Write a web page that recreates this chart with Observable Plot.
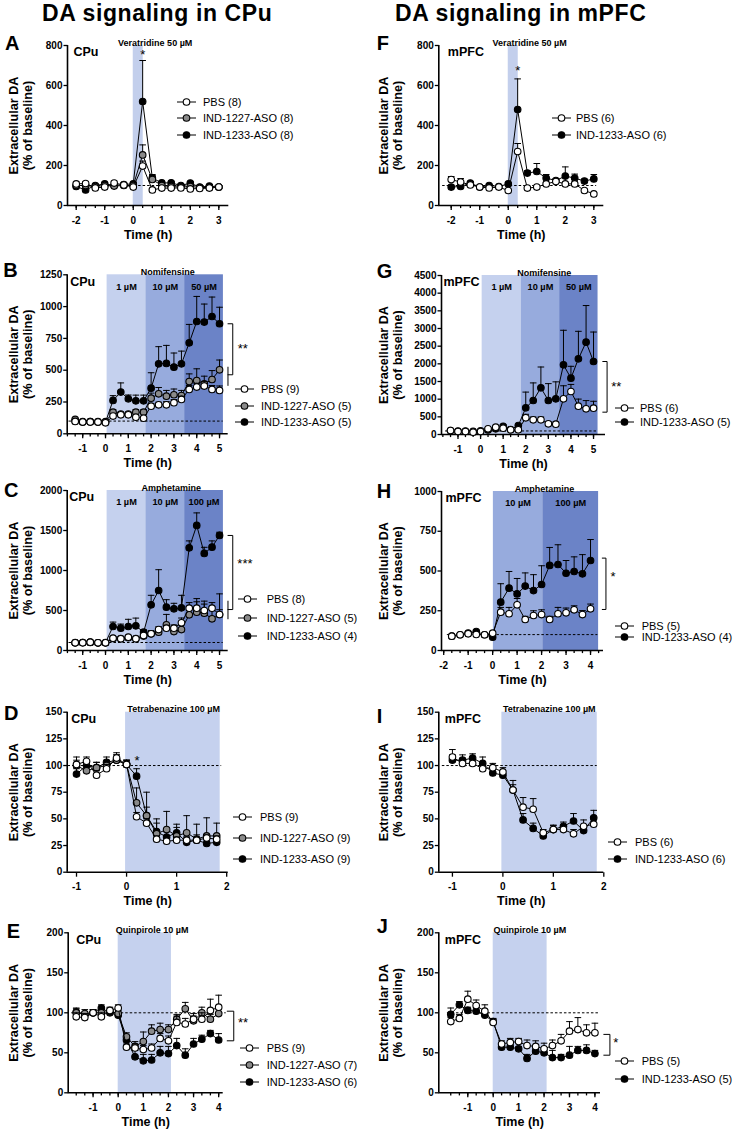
<!DOCTYPE html>
<html><head><meta charset="utf-8">
<script src="https://cdn.jsdelivr.net/npm/d3@7"></script>
<script src="https://cdn.jsdelivr.net/npm/@observablehq/plot@0.6"></script>
<style>
body{margin:0;background:#fff;}
#root{position:relative;width:737px;height:1136px;overflow:hidden;font-family:"Liberation Sans",Arial,sans-serif;color:#000;}
.abs{position:absolute;white-space:nowrap;line-height:1;}
.title{font-weight:bold;font-size:23px;letter-spacing:0.6px;}
.letter{font-weight:bold;font-size:20px;}
.leg{position:absolute;white-space:nowrap;font-size:11px;line-height:12px;height:12px;}
.leg svg{position:absolute;left:0;top:1px;}
.leg span{position:absolute;top:0;}
</style></head><body><div id="root"></div>
<script>
// ---------- data ----------
const tA = [-2,-1.67,-1.33,-1,-0.67,-0.33,0,0.33,0.67,1,1.33,1.67,2,2.33,2.67,3];
const A_PBS = [108,110,88,92,112,103,92,197,78,87,87,88,83,85,87,92];
const A_PBS_err = [10,10,8,8,10,8,8,25,6,6,6,6,6,6,6,6];
const A_1227 = [100,100,95,100,97,100,100,253,130,100,95,92,95,90,90,92];
const A_1227_err = [8,8,8,8,8,8,8,50,20,8,8,8,8,8,8,8];
const A_1233 = [95,78,100,108,100,105,108,520,137,113,113,100,112,92,97,92];
const A_1233_err = [8,8,8,8,8,8,8,205,18,8,8,8,8,8,8,8];

const tF = [-2,-1.67,-1.33,-1,-0.67,-0.33,0,0.33,0.67,1,1.33,1.67,2,2.33,2.67,3];
const F_PBS = [130,117,103,92,88,92,75,270,87,92,108,120,108,108,75,58];
const F_PBS_err = [15,18,8,6,6,6,6,40,6,6,8,10,8,10,8,6];
const F_1233 = [92,95,112,92,100,95,108,480,162,170,137,125,147,137,122,133];
const F_1233_err = [10,8,8,6,6,6,8,153,12,40,18,10,46,20,10,22];

const tB = [-1.33,-1,-0.67,-0.33,0,0.33,0.67,1,1.33,1.67,2,2.33,2.67,3,3.33,3.67,4,4.33,4.67,5];
const B_PBS = [97,92,92,92,86,139,149,149,131,123,217,228,228,244,270,349,367,375,349,341];
const B_PBS_err = [8,6,6,6,6,15,12,12,15,12,20,20,25,25,25,30,30,35,30,35];
const B_1227 = [113,95,95,95,95,170,155,155,170,170,280,314,296,307,301,411,419,393,427,503];
const B_1227_err = [8,6,6,6,6,20,15,15,20,20,40,50,45,45,40,60,92,60,70,77];
const B_1233 = [100,92,95,92,92,262,328,275,259,259,359,550,553,524,550,715,883,878,922,865];
const B_1233_err = [8,6,6,6,6,38,72,30,45,45,121,135,142,111,100,145,197,142,153,130];

const tC = [-1.33,-1,-0.67,-0.33,0,0.33,0.67,1,1.33,1.67,2,2.33,2.67,3,3.33,3.67,4,4.33,4.67,5];
const C_PBS = [96,96,104,96,96,154,146,167,146,188,208,262,279,279,346,529,529,500,529,450];
const C_PBS_err = [8,6,6,6,6,15,15,20,15,25,30,35,35,40,60,70,80,80,70,60];
const C_1227 = [96,100,100,96,96,150,150,160,150,180,208,229,321,237,262,446,479,467,396,450];
const C_1227_err = [8,6,6,6,6,20,20,20,20,20,40,50,130,60,60,100,170,150,150,258];
const C_1233 = [100,100,104,96,100,300,279,300,308,229,571,750,542,521,533,1283,1563,1213,1292,1438];
const C_1233_err = [8,6,6,6,6,55,51,90,97,30,119,260,93,69,157,87,157,77,78,40];

const tG = [-1.33,-1,-0.67,-0.33,0,0.33,0.67,1,1.33,1.67,2,2.33,2.67,3,3.33,3.67,4,4.33,4.67,5];
const G_PBS = [113,85,85,66,85,160,208,180,132,132,472,415,415,302,292,1009,1217,802,726,745];
const G_PBS_err = [20,15,15,15,15,30,40,30,25,25,100,80,80,60,60,370,200,200,234,195];
const G_1233 = [110,95,95,90,100,130,160,230,140,255,755,962,1321,962,1009,1972,1594,2142,2613,2066];
const G_1233_err = [20,15,15,15,15,30,40,50,30,40,445,498,589,478,481,978,336,778,1037,834];

const tH = [-1.67,-1.33,-1,-0.67,-0.33,0,0.33,0.67,1,1.33,1.67,2,2.33,2.67,3,3.33,3.67,4];
const H_PBS = [90,99,105,101,99,109,241,231,287,195,220,226,195,231,237,256,226,262];
const H_PBS_err = [8,8,8,8,8,10,30,40,40,20,30,30,20,40,30,25,25,30];
const H_1233 = [90,99,109,119,99,84,304,392,356,405,377,415,535,541,486,497,482,566];
const H_1233_err = [8,8,8,10,8,8,116,105,97,83,100,118,113,124,80,92,121,132];

const tD = [-1,-0.8,-0.6,-0.4,-0.2,0,0.2,0.4,0.6,0.8,1,1.2,1.4,1.6,1.8];
const D_PBS = [101,104,91,97,107,101,52,46,31,29,30,30,30,32,31];
const D_PBS_err = [7,4,4,4,5,4,4,4,3,3,3,3,3,3,3];
const D_1227 = [100,95,98,100,105,101,65,53,36,40,34,37,31,34,34];
const D_1227_err = [5,5,5,5,5,4,14,22,10,17,8,16,14,17,12];
const D_1233 = [92,100,98,103,105,101,90,53,38,33,37,28,30,27,28];
const D_1233_err = [5,5,5,5,5,4,7,8,12,5,8,5,5,5,5];

const tI = [-1,-0.8,-0.6,-0.4,-0.2,0,0.2,0.4,0.6,0.8,1,1.2,1.4,1.6,1.8];
const I_PBS = [108,102,102,97,98,94,77,61,59,37,40,40,36,43,45];
const I_PBS_err = [7,5,4,4,4,4,9,9,10,3,4,4,4,6,4];
const I_1233 = [105,105,107,102,93,91,77,49,41,34,40,43,48,39,51];
const I_1233_err = [5,5,4,6,4,4,5,6,5,3,4,4,7,4,7];

const tE = [-1.67,-1.33,-1,-0.67,-0.33,0,0.33,0.67,1,1.33,1.67,2,2.33,2.67,3,3.33,3.67,4];
const E_PBS = [95,94,100,95,103,106,57,56,54,56,68,65,88,86,92,92,103,107];
const E_PBS_err = [5,5,4,5,4,4,4,5,5,5,6,6,8,7,7,8,14,15];
const E_1227 = [100,99,100,100,102,99,70,58,64,77,79,79,92,105,90,100,92,99];
const E_1227_err = [5,5,4,4,4,4,5,6,12,8,8,6,6,8,6,7,6,6];
const E_1233 = [101,97,100,106,100,97,66,45,40,41,50,49,59,47,61,67,74,66];
const E_1233_err = [5,4,4,4,4,4,5,8,8,7,8,9,9,8,7,5,4,8];

const tJ = [-1.67,-1.33,-1,-0.67,-0.33,0,0.33,0.67,1,1.33,1.67,2,2.33,2.67,3,3.33,3.67,4];
const J_PBS = [89,93,117,109,102,88,61,63,64,59,58,55,59,65,77,79,75,75];
const J_PBS_err = [5,5,10,7,8,4,4,5,4,7,7,7,7,8,12,15,10,12];
const J_1233 = [98,110,103,102,97,89,57,57,55,43,52,50,44,44,47,53,53,49];
const J_1233_err = [8,4,4,4,4,4,3,3,3,5,4,4,9,4,11,5,7,4];

// tick labels
const yTicksA = [0,200,400,600,800];
const yTicksB = [0,250,500,750,1000,1250];
const yTicksC = [0,500,1000,1500,2000];
const yTicksG = [0,500,1000,1500,2000,2500,3000,3500,4000,4500];
const yTicksH = [0,250,500,750,1000];
const yTicksD = [0,25,50,75,100,125,150];
const yTicksE = [0,50,100,150,200];
const xTicksA = [-2,-1,0,1,2,3];
const xTicksB = [-1,0,1,2,3,4,5];
const xTicksH = [-2,-1,0,1,2,3,4];
const xTicksD = [-1,0,1,2];
const xTicksE = [-1,0,1,2,3,4];
const minorA = [-2,-1.67,-1.33,-1,-0.67,-0.33,0,0.33,0.67,1,1.33,1.67,2,2.33,2.67,3];
const minorB = [-1.67,-1.33,-1,-0.67,-0.33,0,0.33,0.67,1,1.33,1.67,2,2.33,2.67,3,3.33,3.67,4,4.33,4.67,5];
const minorH = [-2,-1.67,-1.33,-1,-0.67,-0.33,0,0.33,0.67,1,1.33,1.67,2,2.33,2.67,3,3.33,3.67,4,4.33];
const minorE = [-1.67,-1.33,-1,-0.67,-0.33,0,0.33,0.67,1,1.33,1.67,2,2.33,2.67,3,3.33,3.67,4];

// treatment windows
const bandVer = [{x1:0, x2:0.35, fill:"#c3cfec", label:""}];
const bandVerF = [{x1:0, x2:0.35, fill:"#c3cfec", label:""}];
const bandNomB = [{x1:0.07,x2:1.77,fill:"#c5d1ee",label:"1 µM"},{x1:1.77,x2:3.47,fill:"#97abdd",label:"10 µM"},{x1:3.47,x2:5.17,fill:"#6b83c7",label:"50 µM"}];
const bandNomG = [{x1:0.07,x2:1.8,fill:"#c5d1ee",label:"1 µM"},{x1:1.8,x2:3.5,fill:"#97abdd",label:"10 µM"},{x1:3.5,x2:5.2,fill:"#6b83c7",label:"50 µM"}];
const bandAmphC = [{x1:0.07,x2:1.77,fill:"#c5d1ee",label:"1 µM"},{x1:1.77,x2:3.47,fill:"#97abdd",label:"10 µM"},{x1:3.47,x2:5.17,fill:"#6b83c7",label:"100 µM"}];
const bandAmphH = [{x1:0.03,x2:2.05,fill:"#97abdd",label:"10 µM"},{x1:2.05,x2:4.33,fill:"#6b83c7",label:"100 µM"}];
const bandTBZ = [{x1:-0.02,x2:1.87,fill:"#c5d1ee",label:""}];
const bandQuin = [{x1:0,x2:2.12,fill:"#c5d1ee",label:""}];

const FILL = {PBS:"#ffffff", "IND-1227-ASO":"#8a8a8a", "IND-1233-ASO":"#000000"};

// ---------- helpers ----------
const FONT = '"Liberation Sans",Arial,sans-serif';
const sym = (f) => ({draw(ctx){ f(ctx); }});
const xMajor = sym(c=>{c.moveTo(0,0);c.lineTo(0,4.5);});
const xMinor = sym(c=>{c.moveTo(0,0);c.lineTo(0,2.6);});
const yTick = sym(c=>{c.moveTo(0,0);c.lineTo(-4,0);});
const cap = sym(c=>{c.moveTo(-3.3,0);c.lineTo(3.3,0);});

function ser(name, t, v, e){ return {name, t, v, e}; }

const panels = [
 {letter:"A", col:0, top:28, h:220, frame:{l:67,r:228.3,t:45,b:205}, xd:[-2.305,3.35], yd:[0,800], yt:yTicksA, xt:xTicksA, minor:minorA,
  region:"CPu", regionDx:6, bands:bandVer, drug:"Veratridine 50 µM", drugX:0.77, base:[-2.02,2.95],
  series:[ser("IND-1233-ASO",tA,A_1233,A_1233_err), ser("IND-1227-ASO",tA,A_1227,A_1227_err), ser("PBS",tA,A_PBS,A_PBS_err)],
  stars:[{x:0.33,y:755,t:"*",a:"middle"}], brackets:[],
  legend:{labels:["PBS (8)","IND-1227-ASO (8)","IND-1233-ASO (8)"], keys:["PBS","IND-1227-ASO","IND-1233-ASO"], symL:177, rows:[101.7,118.3,135], textX:203}},
 {letter:"F", col:1, top:28, h:220, frame:{l:438.3,r:603.3,t:45,b:205}, xd:[-2.435,3.35], yd:[0,800], yt:yTicksA, xt:xTicksA, minor:minorA,
  region:"mPFC", regionDx:9, bands:bandVerF, drug:"Veratridine 50 µM", drugX:0.75, base:[-2.3,3.1],
  series:[ser("IND-1233-ASO",tF,F_1233,F_1233_err), ser("PBS",tF,F_PBS,F_PBS_err)],
  stars:[{x:0.33,y:672,t:"*",a:"middle"}], brackets:[],
  legend:{labels:["PBS (6)","IND-1233-ASO (6)"], keys:["PBS","IND-1233-ASO"], symL:551.7, rows:[118.3,135], textX:576}},
 {letter:"B", col:0, top:255, h:220, frame:{l:66.7,r:227.7,t:274.3,b:433.3}, xd:[-1.68,5.38], yd:[0,1250], yt:yTicksB, xt:xTicksB, minor:minorB,
  region:"CPu", regionDx:3, bands:bandNomB, drug:"Nomifensine", drugX:2.73, base:[-1.6,5.16],
  series:[ser("IND-1233-ASO",tB,B_1233,B_1233_err), ser("IND-1227-ASO",tB,B_1227,B_1227_err), ser("PBS",tB,B_PBS,B_PBS_err)],
  stars:[{x:5.8,y:668,t:"**",a:"start"}],
  brackets:[[[5.37,865],[5.58,865],[5.58,464],[5.37,464]], [[5.37,524],[5.37,380]]],
  legend:{labels:["PBS (9)","IND-1227-ASO (5)","IND-1233-ASO (5)"], keys:["PBS","IND-1227-ASO","IND-1233-ASO"], symL:235, rows:[389,405.7,422.3], textX:261}},
 {letter:"G", col:1, top:255, h:220, frame:{l:441,r:605,t:275,b:434}, xd:[-1.73,5.53], yd:[0,4500], yt:yTicksG, xt:xTicksB, minor:minorB,
  region:"mPFC", regionDx:2, bands:bandNomG, drug:"Nomifensine", drugX:2.82, base:[-1.55,5.2],
  series:[ser("IND-1233-ASO",tG,G_1233,G_1233_err), ser("PBS",tG,G_PBS,G_PBS_err)],
  stars:[{x:5.78,y:1340,t:"**",a:"start"}],
  brackets:[[[5.41,2066],[5.6,2066],[5.6,632],[5.41,632]]],
  legend:{labels:["PBS (6)","IND-1233-ASO (5)"], keys:["PBS","IND-1233-ASO"], symL:615, rows:[407.7,422.3], textX:640}},
 {letter:"C", col:0, top:470, h:220, frame:{l:66.7,r:227.7,t:490,b:650}, xd:[-1.68,5.38], yd:[0,2000], yt:yTicksC, xt:xTicksB, minor:minorB,
  region:"CPu", regionDx:2, bands:bandAmphC, drug:"Amphetamine", drugX:2.88, base:[-1.6,5.16],
  series:[ser("IND-1233-ASO",tC,C_1233,C_1233_err), ser("IND-1227-ASO",tC,C_1227,C_1227_err), ser("PBS",tC,C_PBS,C_PBS_err)],
  stars:[{x:5.78,y:1083,t:"***",a:"start"}],
  brackets:[[[5.37,1438],[5.58,1438],[5.58,512],[5.37,512]], [[5.37,617],[5.37,396]]],
  legend:{labels:["PBS (8)","IND-1227-ASO (5)","IND-1233-ASO (4)"], keys:["PBS","IND-1227-ASO","IND-1233-ASO"], symL:238.3, rows:[599,617.7,636], textX:266.7}},
 {letter:"H", col:1, top:470, h:220, frame:{l:441,r:603,t:491,b:650}, xd:[-2.09,4.53], yd:[0,1000], yt:yTicksH, xt:xTicksH, minor:minorH,
  region:"mPFC", regionDx:4, bands:bandAmphH, drug:"Amphetamine", drugX:2.12, base:[-1.85,4.3],
  series:[ser("IND-1233-ASO",tH,H_1233,H_1233_err), ser("PBS",tH,H_PBS,H_PBS_err)],
  stars:[{x:4.82,y:461,t:"*",a:"start"}],
  brackets:[[[4.48,581],[4.63,581],[4.63,258],[4.48,258]]],
  legend:{labels:["PBS (5)","IND-1233-ASO (4)"], keys:["PBS","IND-1233-ASO"], symL:615, rows:[626,637], textX:641.7}},
 {letter:"D", col:0, top:692, h:220, frame:{l:66.7,r:227.7,t:711.7,b:871.7}, xd:[-1.186,2.03], yd:[0,150], yt:yTicksD, xt:xTicksD, minor:[],
  region:"CPu", regionDx:4, bands:bandTBZ, drug:"Tetrabenazine 100 µM", drugX:0.94, base:[-1.17,1.9],
  series:[ser("IND-1233-ASO",tD,D_1233,D_1233_err), ser("IND-1227-ASO",tD,D_1227,D_1227_err), ser("PBS",tD,D_PBS,D_PBS_err)],
  stars:[{x:0.21,y:104,t:"*",a:"middle"}], brackets:[],
  legend:{labels:["PBS (9)","IND-1227-ASO (9)","IND-1233-ASO (9)"], keys:["PBS","IND-1227-ASO","IND-1233-ASO"], symL:233, rows:[816.7,838.3,859.3], textX:260}},
 {letter:"I", col:1, top:692, h:220, frame:{l:438.3,r:603.3,t:711.7,b:871.7}, xd:[-1.27,2.0], yd:[0,150], yt:yTicksD, xt:xTicksD, minor:[],
  region:"mPFC", regionDx:6, bands:bandTBZ, drug:"Tetrabenazine 100 µM", drugX:0.92, base:[-1.2,1.87],
  series:[ser("IND-1233-ASO",tI,I_1233,I_1233_err), ser("PBS",tI,I_PBS,I_PBS_err)],
  stars:[], brackets:[],
  legend:{labels:["PBS (6)","IND-1233-ASO (6)"], keys:["PBS","IND-1233-ASO"], symL:608.3, rows:[841.7,859.3], textX:635}},
 {letter:"E", col:0, top:912, h:224, frame:{l:67.7,r:222.7,t:932.3,b:1092.3}, xd:[-1.99,4.18], yd:[0,200], yt:yTicksE, xt:xTicksE, minor:minorE,
  region:"CPu", regionDx:8, bands:bandQuin, drug:"Quinpirole 10 µM", drugX:1.35, base:[-1.85,4.3],
  series:[ser("IND-1233-ASO",tE,E_1233,E_1233_err), ser("IND-1227-ASO",tE,E_1227,E_1227_err), ser("PBS",tE,E_PBS,E_PBS_err)],
  stars:[{x:4.77,y:88,t:"**",a:"start"}],
  brackets:[[[4.34,102],[4.6,102],[4.6,65],[4.34,65]]],
  legend:{labels:["PBS (9)","IND-1227-ASO (7)","IND-1233-ASO (6)"], keys:["PBS","IND-1227-ASO","IND-1233-ASO"], symL:240, rows:[1048.3,1065,1081.7], textX:266.7}},
 {letter:"J", col:1, top:912, h:224, frame:{l:438.3,r:600,t:932.3,b:1092.3}, xd:[-2.14,4.22], yd:[0,200], yt:yTicksE, xt:xTicksE, minor:minorE,
  region:"mPFC", regionDx:6, bands:bandQuin, drug:"Quinpirole 10 µM", drugX:1.44, base:[-1.8,4.2],
  series:[ser("IND-1233-ASO",tJ,J_1233,J_1233_err), ser("PBS",tJ,J_PBS,J_PBS_err)],
  stars:[{x:4.72,y:63,t:"*",a:"start"}],
  brackets:[[[4.35,73],[4.59,73],[4.59,47],[4.35,47]]],
  legend:{labels:["PBS (5)","IND-1233-ASO (5)"], keys:["PBS","IND-1233-ASO"], symL:615, rows:[1061,1079.3], textX:641.7}}
];
const letterPos = {A:[5,33],B:[3.3,260],C:[4,480],D:[4,703],E:[6.7,921],F:[376.7,33],G:[376.7,261],H:[376.7,481],I:[376.7,706],J:[376.7,916]};

const root = document.getElementById("root");

function addDiv(cls, text, x, y, extra){
  const d = document.createElement("div");
  d.className = cls; d.textContent = text;
  d.style.left = x + "px"; d.style.top = y + "px";
  if (extra) Object.assign(d.style, extra);
  root.appendChild(d); return d;
}

function buildPanel(p){
  const left = p.col ? 370 : 0, width = p.col ? 367 : 370;
  const f = p.frame;
  const [x0] = p.xd, [y0, y1] = p.yd;
  const marks = [];
  for (const b of p.bands) marks.push(Plot.rect([b], {x1:"x1", x2:"x2", y1:y0, y2:y1, fill:b.fill}));
  marks.push(Plot.ruleY([100], {x1:p.base[0], x2:p.base[1], stroke:"#000", strokeWidth:1, strokeDasharray:"2.5,2"}));
  // axes
  marks.push(Plot.ruleY([0], {stroke:"#000", strokeWidth:1.6}));
  marks.push(Plot.ruleX([x0], {stroke:"#000", strokeWidth:1.6}));
  marks.push(Plot.dot(p.minor, {x:d=>d, y:y0, symbol:xMinor, r:2, fill:"none", stroke:"#000", strokeWidth:1.3}));
  marks.push(Plot.dot(p.xt, {x:d=>d, y:y0, symbol:xMajor, r:2, fill:"none", stroke:"#000", strokeWidth:1.3}));
  marks.push(Plot.text(p.xt, {x:d=>d, y:y0, text:d=>String(d), dy:15, fontSize:10, fontWeight:"bold"}));
  marks.push(Plot.dot(p.yt, {x:x0, y:d=>d, symbol:yTick, r:2, fill:"none", stroke:"#000", strokeWidth:1.3}));
  marks.push(Plot.text(p.yt, {x:x0, y:d=>d, text:d=>String(d), textAnchor:"end", dx:-5, fontSize:10, fontWeight:"bold"}));
  // labels
  marks.push(Plot.text(["Time (h)"], {frameAnchor:"bottom", text:d=>d, dy:33, fontSize:12.5, fontWeight:"bold"}));
  marks.push(Plot.text(["Extracellular DA\n(% of baseline)"], {frameAnchor:"left", textAnchor:"middle", text:d=>d, rotate:-90, dx:-(f.l-left-19.7), fontSize:12.7, fontWeight:"bold", lineHeight:1.14}));
  marks.push(Plot.text([p.region], {frameAnchor:"top-left", text:d=>d, dx:p.regionDx, dy:2, lineAnchor:"top", textAnchor:"start", fontSize:12.5, fontWeight:"bold"}));
  marks.push(Plot.text([p.drug], {x:p.drugX, y:y1, text:d=>d, lineAnchor:"bottom", dy:0, fontSize:9, fontWeight:"bold"}));
  marks.push(Plot.text(p.bands.filter(b=>b.label), {x:b=>(b.x1+b.x2)/2, y:y1, text:"label", dy:12, fontSize:9.2, fontWeight:"bold"}));
  // series
  for (const s of p.series){
    const rows = s.t.map((t,i)=>({t, v:s.v[i], e:s.e[i]}));
    marks.push(Plot.ruleX(rows, {x:"t", y1:"v", y2:d=>d.v+d.e, stroke:"#000", strokeWidth:1}));
    marks.push(Plot.dot(rows, {x:"t", y:d=>d.v+d.e, symbol:cap, r:2, fill:"none", stroke:"#000", strokeWidth:1}));
    marks.push(Plot.line(rows, {x:"t", y:"v", stroke:"#000", strokeWidth:1}));
    marks.push(Plot.dot(rows, {x:"t", y:"v", r:3.3, fill:FILL[s.name], stroke:"#000", strokeWidth:1.1}));
  }
  for (const br of p.brackets) marks.push(Plot.line(br, {x:d=>d[0], y:d=>d[1], stroke:"#000", strokeWidth:1}));
  for (const st of p.stars) marks.push(Plot.text([st], {x:"x", y:"y", text:"t", textAnchor:st.a, fontSize:13, fontWeight:"normal"}));

  const svg = Plot.plot({
    width, height:p.h,
    marginLeft:f.l-left, marginRight:left+width-f.r, marginTop:f.t-p.top, marginBottom:p.top+p.h-f.b,
    x:{domain:p.xd, axis:null}, y:{domain:p.yd, axis:null},
    style:{fontFamily:FONT, fontSize:"11px", background:"transparent", overflow:"visible"},
    marks
  });
  svg.style.position = "absolute"; svg.style.left = left+"px"; svg.style.top = p.top+"px";
  root.appendChild(svg);

  // legend
  const L = p.legend;
  L.labels.forEach((lab,i)=>{
    const d = document.createElement("div");
    d.className = "leg";
    d.style.left = L.symL + "px"; d.style.top = (L.rows[i]-6) + "px";
    const fill = FILL[L.keys[i]];
    d.innerHTML = `<svg width="20" height="10" viewBox="0 0 20 10"><line x1="0" y1="5" x2="19" y2="5" stroke="#000" stroke-width="1"/><circle cx="9.5" cy="5" r="3.3" fill="${fill}" stroke="#000" stroke-width="1.1"/></svg><span style="left:${L.textX-L.symL}px">${lab}</span>`;
    root.appendChild(d);
  });
  const lp = letterPos[p.letter];
  addDiv("abs letter", p.letter, lp[0], lp[1]);
}

addDiv("abs title", "DA signaling in CPu", 42, 2);
addDiv("abs title", "DA signaling in mPFC", 395, 2);
panels.forEach(buildPanel);
</script></body></html>
